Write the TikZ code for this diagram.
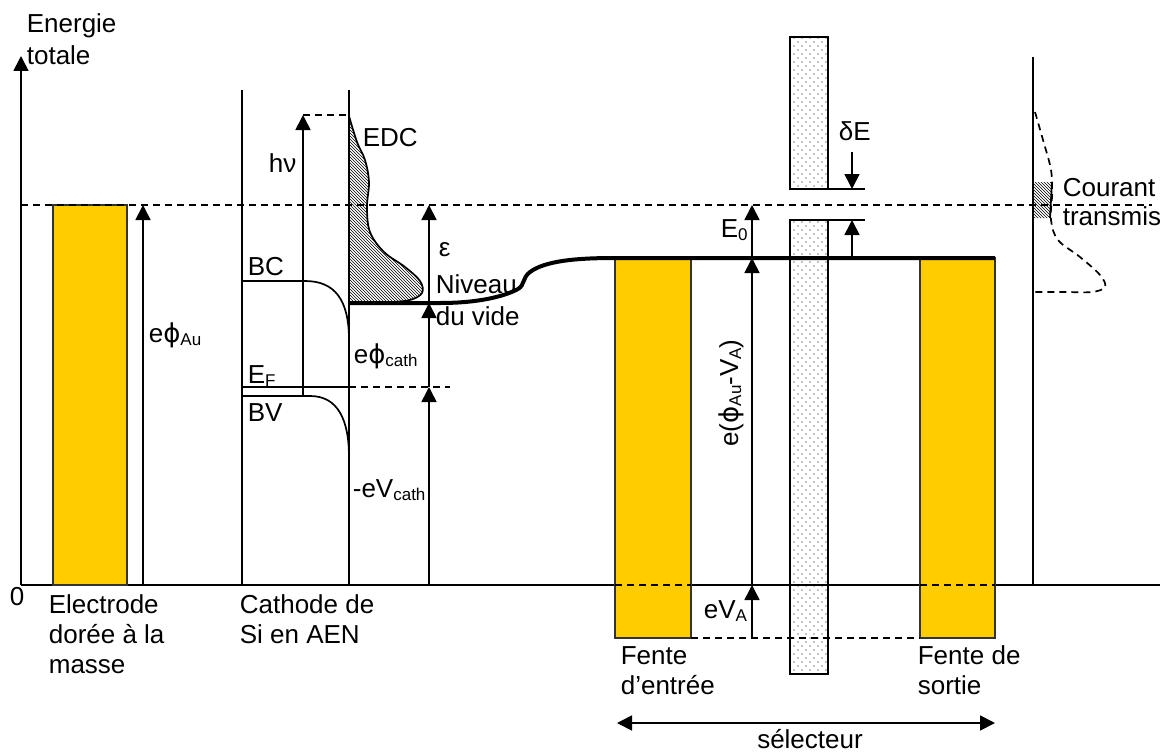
\documentclass[tikz,border=0pt]{standalone}
\usepackage{fontspec}
\setmainfont{Liberation Sans}
\newfontfamily\phifont{DejaVu Sans}
\usetikzlibrary{arrows.meta,patterns}
\pgfdeclarepatternformonly{seldots}{\pgfqpoint{-1pt}{-1pt}}{\pgfqpoint{9pt}{9pt}}{\pgfqpoint{8pt}{8pt}}{%
\pgfpathcircle{\pgfqpoint{2pt}{2pt}}{0.55pt}\pgfpathcircle{\pgfqpoint{6pt}{6pt}}{0.55pt}\pgfusepath{fill}}
\newcommand\sbs[1]{\raisebox{-3pt}{\fontsize{17}{17}\selectfont #1}}
\newcommand\vphi{{\phifont ϕ}}
\definecolor{gold}{HTML}{FFCC00}
\begin{document}
\begin{tikzpicture}[x=1pt,y=-1pt, line width=1.7pt,
 lbl/.style={font=\fontsize{26}{30}\selectfont, inner sep=0pt, anchor=base west},
 up/.style={-{Triangle[length=15pt,width=15pt]}},
 dsh/.style={dash pattern=on 7pt off 5pt},
 goldbox/.style={fill=gold, draw=black!80, line width=1.3pt},
 selbox/.style={draw=black, preaction={fill=white}, pattern=seldots, line width=1.6pt},
 vac/.style={line width=4pt},
]
\useasboundingbox (0,0) rectangle (1167,752);

% selector plates
\draw[selbox] (790,37) rectangle (828,189);
\draw[selbox] (790,220) rectangle (828,674);

% zero line and axis
\draw (21,585) -- (1160,585);
\draw[up] (21,585) -- (21,56);

% gold electrodes
\draw[goldbox] (53,205) rectangle (127,585);
\draw[goldbox] (615,258) rectangle (691,638);
\draw[goldbox] (920,258) rectangle (995,638);
\draw[dsh] (615,585) -- (691,585);
\draw[dsh] (920,585) -- (995,585);

% reference dashed level
\draw[dsh] (21,205) -- (1152,205);

% EDC
\draw[pattern=north west lines] plot[smooth,tension=0.6] coordinates {(349,116) (357,142) (365,160) (369,182) (367,207) (370,232) (384,252) (405,267) (420,281) (422,293) (410,300) (392,302)} -- (349,303) -- cycle;

% cathode
\draw (242,90) -- (242,585);
\draw (349,90) -- (349,585);
\draw (242,281) -- (305,281) .. controls (335,281) and (349,300) .. (349,340);
\draw (242,396) -- (310,396) .. controls (338,396) and (349,420) .. (349,457);
\draw (242,387) -- (349,387);
\draw[dsh] (349,387) -- (450,387);
\draw[up] (303,396) -- (303,115);
\draw[dsh] (303,115) -- (349,115);

% arrows at x=429
\draw[up] (429,585) -- (429,387);
\draw[up] (429,387) -- (429,303);
\draw[up] (429,303) -- (429,205);

% vacuum level
\draw[vac] (349,303) -- (440,303) .. controls (480,303) and (505,296) .. (518,289) .. controls (525,285) and (522,278) .. (530,272) .. controls (545,261) and (575,258) .. (615,258) -- (995,258);

% e phi Au
\draw[up] (143,585) -- (143,205);

% selector arrows
\draw[dsh] (691,638) -- (920,638);
\draw[up] (752,638) -- (752,585);
\draw[up] (752,585) -- (752,258);
\draw[up] (752,258) -- (752,205);
\draw (828,189) -- (865,189);
\draw (828,220) -- (865,220);
\draw[up] (852,152) -- (852,189);
\draw[up] (852,258) -- (852,220);

% right axis and transmitted current
\draw (1033,57) -- (1033,585);
\draw[dsh] plot[smooth,tension=0.6] coordinates {(1035,112) (1043,140) (1051,170) (1052,195) (1051,220) (1058,240) (1080,257) (1100,275) (1105,287) (1092,292) (1070,292)} -- (1033,292);
\fill[pattern=north west lines] (1034,182) -- (1052,182) -- (1050,218) -- (1034,218) -- cycle;
\draw (1052,182) -- (1050,218);

% selecteur arrow
\draw[{Triangle[length=15pt,width=15pt]}-{Triangle[length=15pt,width=15pt]}] (617,723) -- (995,723);

% labels
\node[lbl] (en1) at (26,33) {Energie};
\node[lbl] (en2) at (26,64) {totale};
\node[lbl,anchor=base] (zero) at (17,605) {0};
\node[lbl] (ephiau) at (148,342) {e\vphi\sbs{Au}};
\node[lbl] (hnu) at (268,172) {hν};
\node[lbl] (edc) at (362,146) {EDC};
\node[lbl] (bc) at (247,275) {BC};
\node[lbl] (eps) at (438,256) {ε};
\node[lbl] (niv1) at (435,293) {Niveau};
\node[lbl] (niv2) at (435,325) {du vide};
\node[lbl] (ef) at (247,383) {E\sbs{F}};
\node[lbl] (bv) at (247,421) {BV};
\node[lbl] (ephic) at (353,363) {e\vphi\sbs{cath}};
\node[lbl] (evc) at (352,497) {-eV\sbs{cath}};
\node[lbl] (e0) at (720,237) {E\sbs{0}};
\node[lbl] (de) at (838,140) {δE};
\node[lbl] (eva) at (703,618) {eV\sbs{A}};
\node[lbl,anchor=center,rotate=90] (ephiva) at (731,393) {e(\vphi\sbs{Au}-V\sbs{A})};
\node[lbl] (cour1) at (1062,196) {Courant};
\node[lbl] (cour2) at (1062,225) {transmis};
\node[lbl] (el1) at (48,613) {Electrode};
\node[lbl] (el2) at (48,643) {dorée à la};
\node[lbl] (el3) at (48,673) {masse};
\node[lbl] (ca1) at (239,613) {Cathode de};
\node[lbl] (ca2) at (239,643) {Si en AEN};
\node[lbl] (fe1) at (620,664) {Fente};
\node[lbl] (fe2) at (620,694) {d’entrée};
\node[lbl] (fs1) at (917,664) {Fente de};
\node[lbl] (fs2) at (917,694) {sortie};
\node[lbl,anchor=base] (sel) at (810,748) {sélecteur};
\end{tikzpicture}
\end{document}
